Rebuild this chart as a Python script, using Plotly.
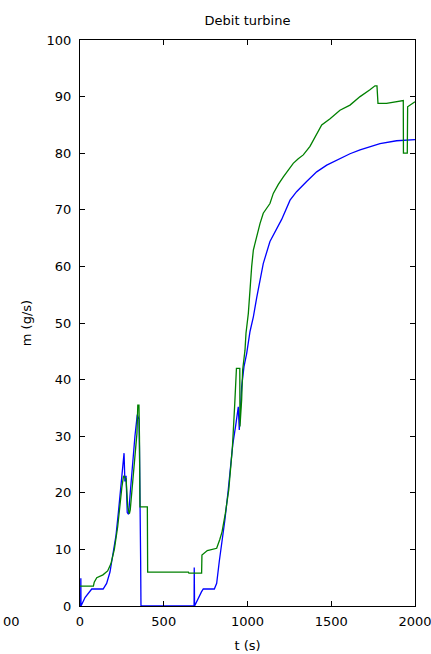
import plotly.graph_objects as go

# Blue series (t in s, m in g/s)
t_blue = [0, 4, 5, 6, 30, 70, 138, 159, 179, 200, 215, 229, 243, 255, 263, 268, 275, 282, 290,
          300, 312, 328, 342, 352, 355, 358, 362, 364, 681, 682, 684, 725, 736, 802, 816,
          832, 844, 865, 885, 900, 912, 930, 945, 951, 965, 979, 995, 1015, 1035, 1055, 1094,
          1134, 1170, 1204, 1254, 1293, 1353, 1413, 1473, 1552, 1612, 1672, 1731, 1791, 1890,
          1990, 2000]
m_blue = [0, 0, 4.9, 0, 1.5, 3, 3, 4, 6, 10, 12.5, 16.5, 20.5, 25, 27, 22, 23, 16.5, 16.2,
          20, 25, 30, 33.8, 33, 28, 8, 8, 0, 0, 6.8, 0, 2.5, 3, 3, 4,
          8, 10.5, 15.2, 20.5, 24.6, 28.5, 32, 35.2, 31.1, 38.7, 42.3, 44.6, 48.5, 51.1, 54.5, 60.5,
          64.4, 66.5, 68.3, 71.7, 73.2, 75, 76.7, 77.9, 79.1, 79.9, 80.6, 81.2, 81.7, 82.2,
          82.3, 82.4]

# Green series
t_green = [0, 80, 85, 100, 137, 165, 185, 205, 225, 240, 250, 260, 275, 285, 295, 300, 310,
           320, 330, 340, 345, 352, 355, 358, 402, 404, 647, 650, 726, 728, 760, 816, 834,
           848, 868, 888, 900, 910, 924, 934, 954, 955, 965, 971, 985, 991, 1005, 1015,
           1025, 1035, 1049, 1064, 1075, 1094, 1115, 1134, 1154, 1184, 1214, 1244, 1273, 1303,
           1333, 1373, 1413, 1443, 1493, 1552, 1612, 1672, 1731, 1761, 1773, 1779, 1830, 1870,
           1920, 1930, 1931, 1954, 1956, 2000]
m_green = [3.5, 3.5, 4.2, 5, 5.5, 6.2, 7.5, 10, 14, 19, 21, 23, 22.5, 17.5, 16.3, 17, 20.5,
           23.6, 26, 30.5, 35.5, 35.5, 30, 17.5, 17.5, 6, 6, 5.8, 5.8, 9, 9.8, 10.2, 11.7,
           13.1, 16.4, 20.5, 24.6, 28.1, 35.8, 42, 42, 31.7, 36.4, 41.7, 45.2, 48.2, 51.7, 56.4,
           60, 62.9, 64.7, 66.4, 67.6, 69.4, 70.3, 71.1, 72.9, 74.5, 75.8, 77, 78.2, 79,
           79.7, 81.2, 83.5, 85, 86.1, 87.6, 88.5, 90, 91.2, 91.9, 91.9, 88.8, 88.8, 89,
           89.3, 89.3, 80, 80, 88.2, 89.1]

x_ticks = [0, 500, 1000, 1500, 2000]
y_ticks = [0, 10, 20, 30, 40, 50, 60, 70, 80, 90, 100]

title_text = "Debit turbine"
x_label = "t (s)"
y_label = "m (g/s)"
neighbour_label = "00"

FONT = "DejaVu Sans, sans-serif"
FS = 13

fig = go.Figure()
fig.add_trace(go.Scatter(x=t_blue, y=m_blue, mode="lines",
                         line=dict(color="#0000ff", width=1.3), showlegend=False))
fig.add_trace(go.Scatter(x=t_green, y=m_green, mode="lines",
                         line=dict(color="#008000", width=1.3), showlegend=False))

axis_common = dict(showgrid=False, zeroline=False, showline=True, linecolor="#000000",
                   linewidth=1, mirror="ticks", ticks="inside", ticklen=5, tickcolor="#000000",
                   automargin=False, ticklabeloverflow="allow",
                   tickfont=dict(family=FONT, size=FS, color="#000000"))

fig.update_xaxes(range=[0, 2000], tickvals=x_ticks, ticktext=[str(v) for v in x_ticks],
                 ticklabelstandoff=3,
                 title=dict(text=x_label, font=dict(family=FONT, size=FS, color="#000000"),
                            standoff=13), **axis_common)
fig.update_yaxes(range=[0, 100], tickvals=y_ticks, ticktext=[str(v) for v in y_ticks],
                 ticklabelstandoff=5,
                 title=dict(text=y_label, font=dict(family=FONT, size=FS, color="#000000"),
                            standoff=12), **axis_common)

fig.update_layout(
    width=431, height=654,
    margin=dict(l=80, r=16, t=40, b=48, pad=0, autoexpand=False),
    plot_bgcolor="#ffffff", paper_bgcolor="#ffffff",
    title=dict(text=title_text, x=(80 + 415) / 2 / 431, xanchor="center", y=1 - 20 / 654,
               yanchor="middle", font=dict(family=FONT, size=FS, color="#000000")),
    font=dict(family=FONT, size=FS, color="#000000"),
)

# Fragment of a neighbouring subplot's tick label at the left edge of the page
fig.add_annotation(text=neighbour_label, xref="paper", yref="paper", x=(0.5 - 80) / 335,
                   xanchor="left", y=-15 / 566, yanchor="middle", showarrow=False,
                   font=dict(family=FONT, size=FS, color="#000000"))

fig.write_html("out.html", config={"displayModeBar": False},
               post_script="document.body.style.margin='0';")
